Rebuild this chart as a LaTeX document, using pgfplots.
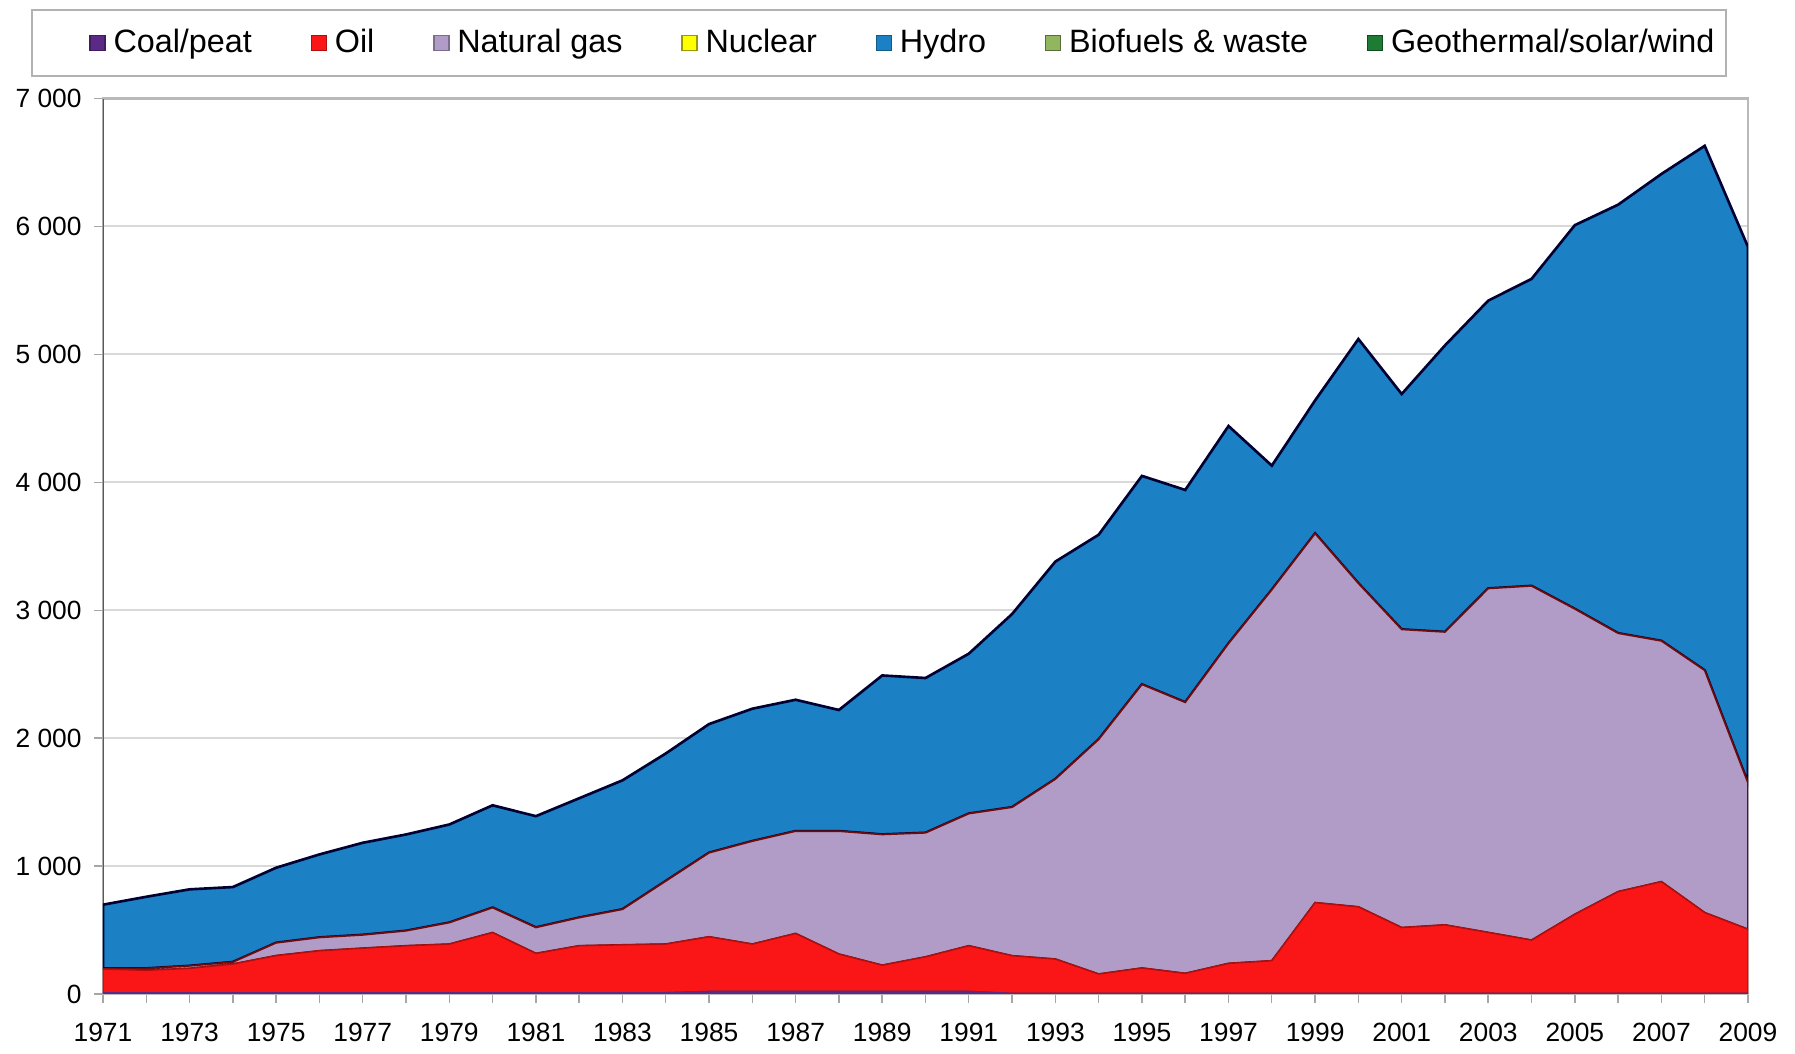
\documentclass[border=0pt]{standalone}
\usepackage{pgfplots}
\pgfplotsset{compat=1.18}
\usepackage{pgfplotstable}
\usepackage{fontspec}
\setmainfont{Liberation Sans}

\definecolor{coalc}{HTML}{5B2A86}
\definecolor{oilc}{HTML}{FA1616}
\definecolor{gasc}{HTML}{B09CC6}
\definecolor{nucc}{HTML}{FFFF00}
\definecolor{hydc}{HTML}{1B80C4}
\definecolor{bioc}{HTML}{92B560}
\definecolor{geoc}{HTML}{1E7B34}

\pgfplotstableread{
year coal oil gas nuclear hydro bio geo
1971 10 185 5 0 498 0 0
1972 10 175 15 0 560 0 0
1973 10 190 20 0 598 0 0
1974 10 224 16 0 586 0 0
1975 10 290 100 0 587 0 0
1976 10 328 104 0 649 0 0
1977 10 348 104 0 720 0 0
1978 10 367 117 0 753 0 0
1979 10 380 168 0 767 0 0
1980 10 470 195 0 800 0 0
1981 10 307 203 0 870 0 0
1982 10 367 220 0 933 0 0
1983 10 374 278 0 1008 0 0
1984 10 380 493 0 997 0 0
1985 20 427 657 0 1006 0 0
1986 20 370 805 0 1035 0 0
1987 20 453 800 0 1027 0 0
1988 20 292 961 0 947 0 0
1989 20 205 1022 0 1243 0 0
1990 20 270 970 0 1210 0 0
1991 20 357 1033 0 1250 0 0
1992 5 294 1161 0 1510 0 0
1993 5 268 1407 0 1700 0 0
1994 5 151 1834 0 1600 0 0
1995 5 198 2217 0 1630 0 0
1996 5 156 2119 0 1660 0 0
1997 5 234 2501 0 1700 0 0
1998 5 255 2900 0 970 0 0
1999 5 709 2886 0 1040 0 0
2000 5 676 2529 0 1910 0 0
2001 5 514 2331 0 1840 0 0
2002 5 535 2290 0 2240 0 0
2003 5 476 2689 0 2250 0 0
2004 5 416 2769 0 2400 0 0
2005 5 618 2387 0 3000 0 0
2006 5 795 2020 0 3350 0 0
2007 5 873 1882 0 3650 0 0
2008 5 631 1894 0 4100 0 0
2009 5 501 1144 0 4190 0 0
}\datatable

\begin{document}
\begin{tikzpicture}
\begin{axis}[
  scale only axis,
  width=164.5mm, height=89.55mm,
  xmin=1971, xmax=2009, ymin=0, ymax=7000,
  stack plots=y,
  xtick={1971,1973,...,2009},
  minor xtick={1971,...,2009},
  ytick={0,1000,...,7000},
  xtick pos=bottom, ytick pos=left,
  tick align=outside,
  major tick length=0.9mm, minor tick length=0.9mm,
  tick style={gray!70, line width=0.4pt},
  ymajorgrids,
  grid style={gray!30, line width=0.6pt},
  axis line style={gray!55, line width=0.6pt},
  /pgf/number format/assume math mode=true,
  yticklabel style={font=\fontsize{7.5}{8.5}\selectfont, /pgf/number format/1000 sep={\ }},
  xticklabel style={font=\fontsize{7.5}{8.5}\selectfont, /pgf/number format/1000 sep={}, yshift=-0.8mm},
  legend columns=7,
  legend style={at={(axis description cs:0,1)}, anchor=north west,
    xshift=-7.2mm, yshift=8.95mm,
    draw=gray!60, line width=0.6pt,
    inner xsep=1mm, inner ysep=1.7mm,
    font=\fontsize{9.2}{11}\selectfont,
    nodes={inner sep=0.5pt},
    /tikz/every even column/.append style={column sep=5.7mm},
    /tikz/every odd column/.append style={column sep=0.6mm}},
  legend image code/.code={\draw[#1, line width=0.4pt] (0mm,-0.75mm) rectangle (1.5mm,0.75mm);},
]
\addplot[fill=coalc, draw=coalc, line width=0.4pt,
  legend image code/.code={\path[draw=none, fill=none] (-4.8mm,0) -- (0mm,0); \draw[fill=coalc, draw=coalc!70!black, line width=0.4pt] (0mm,-0.75mm) rectangle (1.5mm,0.75mm);}]
  table[x=year, y=coal] {\datatable} \closedcycle;
\addlegendentry{Coal/peat}
\addplot[fill=oilc, draw=oilc!70!black, line width=0.4pt] table[x=year, y=oil] {\datatable} \closedcycle;
\addlegendentry{Oil}
\addplot[fill=gasc, draw=oilc!45!black, line width=0.5pt,
  legend image code/.code={\draw[fill=gasc, draw=gasc!70!black, line width=0.4pt] (0mm,-0.75mm) rectangle (1.5mm,0.75mm);}]
  table[x=year, y=gas] {\datatable} \closedcycle;
\addlegendentry{Natural gas}
\addplot[fill=nucc, draw=none,
  legend image code/.code={\draw[fill=nucc, draw=nucc!60!black, line width=0.4pt] (0mm,-0.75mm) rectangle (1.5mm,0.75mm);}]
  table[x=year, y=nuclear] {\datatable} \closedcycle;
\addlegendentry{Nuclear}
\addplot[fill=hydc, draw=black!80!blue, line width=0.75pt,
  legend image code/.code={\draw[fill=hydc, draw=hydc!70!black, line width=0.4pt] (0mm,-0.75mm) rectangle (1.5mm,0.75mm);}]
  table[x=year, y=hydro] {\datatable} \closedcycle;
\addlegendentry{Hydro}
\addplot[fill=bioc, draw=none,
  legend image code/.code={\draw[fill=bioc, draw=bioc!60!black, line width=0.4pt] (0mm,-0.75mm) rectangle (1.5mm,0.75mm);}]
  table[x=year, y=bio] {\datatable} \closedcycle;
\addlegendentry{Biofuels \& waste}
\addplot[fill=geoc, draw=none,
  legend image code/.code={\draw[fill=geoc, draw=geoc!60!black, line width=0.4pt] (0mm,-0.75mm) rectangle (1.5mm,0.75mm);}]
  table[x=year, y=geo] {\datatable} \closedcycle;
\addlegendentry{Geothermal/solar/wind}
\draw[gray!55, line width=0.6pt] (rel axis cs:1,0) -- (rel axis cs:1,1);
\draw[black!65, line width=0.6pt] (rel axis cs:0,0) -- (rel axis cs:0,1);
\end{axis}
\path (-10.3mm,-5.6mm) rectangle (169.2mm,99.4mm);
\end{tikzpicture}
\end{document}
